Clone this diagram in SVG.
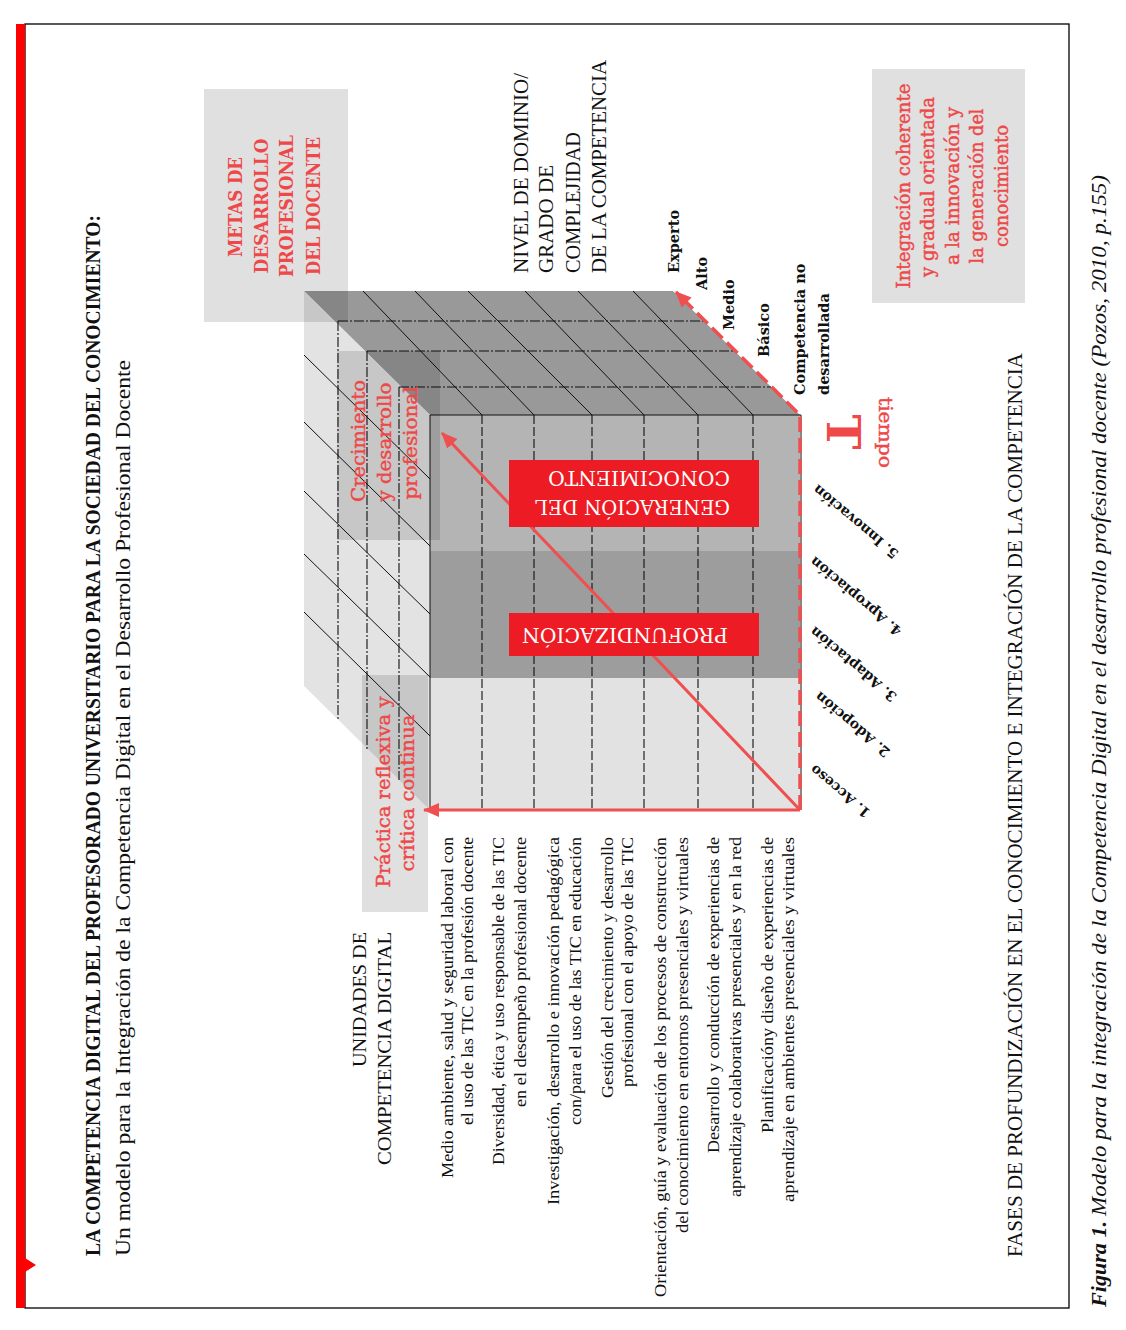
<svg xmlns="http://www.w3.org/2000/svg" width="1126" height="1330" viewBox="0 0 1126 1330">
<defs>
<style>
.slab{font-family:"DejaVu Serif",serif}
.ser{font-family:"Liberation Serif",serif}
.rt{fill:#ef4848}
.th{stroke:#ef4848;stroke-width:0.45}
.bk{fill:#111}
.wt{fill:#fff}
.ov{fill:#000;fill-opacity:0.12}
.ln{stroke:#111;stroke-width:1;fill:none}
.dd{stroke:#111;stroke-width:1.1;fill:none;stroke-dasharray:10 2 2 2}
.dv{stroke:#111;stroke-width:1.1;fill:none;stroke-dasharray:9 3}
.ra{stroke:#ef4f4f;stroke-width:3;fill:none}
.rd{stroke:#ef4f4f;stroke-width:3.5;fill:none;stroke-dasharray:15 6}
.rbox{fill:#ed1c24}
</style>
<marker id="ah" markerUnits="userSpaceOnUse" markerWidth="18" markerHeight="16" refX="15" refY="7" orient="auto"><path d="M0,0 L16,7 L0,14 z" fill="#ef4f4f"/></marker>
</defs>
<rect width="1126" height="1330" fill="#fff"/>

<g id="frame">
<rect x="25" y="24" width="1044" height="1284" fill="none" stroke="#000" stroke-width="1.3"/>
<rect x="16" y="24" width="9" height="1284" fill="#ff0000"/>
<polygon points="25,1258 36,1265 25,1272" fill="#ff0000"/>
</g>

<g id="title">
<text class="ser bk" font-weight="bold" font-size="20" transform="translate(100,1256) rotate(-90)" textLength="1041" lengthAdjust="spacingAndGlyphs">LA COMPETENCIA DIGITAL DEL PROFESORADO UNIVERSITARIO PARA LA SOCIEDAD DEL CONOCIMIENTO:</text>
<text class="ser bk" font-size="20" transform="translate(130,1256) rotate(-90)" textLength="896" lengthAdjust="spacingAndGlyphs">Un modelo para la Integración de la Competencia Digital en el Desarrollo Profesional Docente</text>
</g>

<g id="cube">
<polygon points="304,291 673,291 800,415 430,415" fill="#999"/>
<polygon points="304,291 430,415 430,810 304,686" fill="#e3e3e3"/>
<rect x="430" y="415" width="370" height="136" fill="#b4b4b4"/>
<rect x="430" y="551" width="370" height="127" fill="#9d9d9d"/>
<rect x="430" y="678" width="370" height="132" fill="#e2e2e2"/>
<g id="cube-lines">
<path class="ln" d="M363,291 L482,415 M415,291 L534,415 M468,291 L592,415 M525,291 L644,415 M578,291 L698,415 M633,291 L753,415"/>
<path class="ln" d="M304,355 L430,479 M304,422 L430,546 M304,491 L430,614 M304,554 L430,677 M304,612 L430,736"/>
<path class="dd" d="M338,321 L704,321 M367,351 L735,351 M399,387 L771,387"/>
<path class="dd" d="M338,321 L338,720 M367,351 L367,749 M399,387 L399,780"/>
<path class="dv" d="M482,415 L482,810 M534,415 L534,810 M592,415 L592,810 M644,415 L644,810 M698,415 L698,810 M753,415 L753,810"/>
<path class="ln" stroke-width="1.4" d="M430,810 L430,415 L801,415 L801,810"/>
</g>
</g>

<g id="overlays">
<rect class="ov" x="204" y="89" width="144" height="233"/>
<rect class="ov" x="337" y="351" width="103" height="189"/>
<rect class="ov" x="362" y="675" width="66" height="237"/>
<rect class="ov" x="872" y="69" width="153" height="234"/>
</g>

<g id="connectors">
<path class="ra" d="M800,810 L424,810" marker-end="url(#ah)"/>
<path class="ra" d="M800,810 L442,433" marker-end="url(#ah)"/>
<path class="rd" d="M800,810 L800,415 L676,292" marker-end="url(#ah)"/>
</g>

<g id="node-generacion">
<rect class="rbox" x="509" y="460" width="250" height="67"/>
<text class="slab wt" font-size="20" transform="translate(730,500) rotate(180)" textLength="195" lengthAdjust="spacingAndGlyphs">GENERACIÓN DEL</text>
<text class="slab wt" font-size="20" transform="translate(730,471) rotate(180)" textLength="182" lengthAdjust="spacingAndGlyphs">CONOCIMIENTO</text>
</g>
<g id="node-profundizacion">
<rect class="rbox" x="509" y="613" width="250" height="43"/>
<text class="slab wt" font-size="20" transform="translate(728,628) rotate(180)" textLength="206" lengthAdjust="spacingAndGlyphs">PROFUNDIZACIÓN</text>
</g>

<g id="node-metas">
<g class="slab rt" font-weight="bold" font-size="19" text-anchor="middle">
<text transform="translate(242,207) rotate(-90)" textLength="100" lengthAdjust="spacingAndGlyphs">METAS DE</text>
<text transform="translate(268,206) rotate(-90)" textLength="135" lengthAdjust="spacingAndGlyphs">DESARROLLO</text>
<text transform="translate(293,206) rotate(-90)" textLength="142" lengthAdjust="spacingAndGlyphs">PROFESIONAL</text>
<text transform="translate(320,206) rotate(-90)" textLength="138" lengthAdjust="spacingAndGlyphs">DEL DOCENTE</text>
</g>
</g>

<g id="node-crecimiento">
<g class="slab rt th" font-size="19" text-anchor="middle">
<text transform="translate(365,441) rotate(-90)" textLength="122" lengthAdjust="spacingAndGlyphs">Crecimiento</text>
<text transform="translate(391,442) rotate(-90)" textLength="119" lengthAdjust="spacingAndGlyphs">y desarrollo</text>
<text transform="translate(417,443) rotate(-90)" textLength="113" lengthAdjust="spacingAndGlyphs">profesional</text>
</g>
</g>

<g id="node-practica">
<g class="slab rt th" font-size="19" text-anchor="middle">
<text transform="translate(390,792) rotate(-90)" textLength="191" lengthAdjust="spacingAndGlyphs">Práctica reflexiva y</text>
<text transform="translate(414,793) rotate(-90)" textLength="157" lengthAdjust="spacingAndGlyphs">crítica continua</text>
</g>
</g>

<g id="node-integracion">
<g class="slab rt th" font-size="18" text-anchor="middle">
<text transform="translate(910,186) rotate(-90)" textLength="205" lengthAdjust="spacingAndGlyphs">Integración coherente</text>
<text transform="translate(934,187) rotate(-90)" textLength="180" lengthAdjust="spacingAndGlyphs">y gradual orientada</text>
<text transform="translate(959,186) rotate(-90)" textLength="158" lengthAdjust="spacingAndGlyphs">a la innovación y</text>
<text transform="translate(983,186) rotate(-90)" textLength="155" lengthAdjust="spacingAndGlyphs">la generación del</text>
<text transform="translate(1008,186) rotate(-90)" textLength="122" lengthAdjust="spacingAndGlyphs">conocimiento</text>
</g>
</g>

<g id="node-nivel">
<g class="ser bk" font-size="20">
<text transform="translate(528,273) rotate(-90)" textLength="200" lengthAdjust="spacingAndGlyphs">NIVEL DE DOMINIO/</text>
<text transform="translate(553,273) rotate(-90)" textLength="108" lengthAdjust="spacingAndGlyphs">GRADO DE</text>
<text transform="translate(580,273) rotate(-90)" textLength="141" lengthAdjust="spacingAndGlyphs">COMPLEJIDAD</text>
<text transform="translate(606,273) rotate(-90)" textLength="213" lengthAdjust="spacingAndGlyphs">DE LA COMPETENCIA</text>
</g>
</g>

<g id="node-niveles">
<g class="slab bk" font-weight="bold" font-size="14.5">
<text transform="translate(679,273) rotate(-90)">Experto</text>
<text transform="translate(707,290) rotate(-90)">Alto</text>
<text transform="translate(734,330) rotate(-90)">Medio</text>
<text transform="translate(769,357) rotate(-90)">Básico</text>
<text transform="translate(805,395) rotate(-90)">Competencia no</text>
<text transform="translate(829,395) rotate(-90)">desarrollada</text>
</g>
</g>

<g id="node-tiempo">
<text class="slab rt" font-weight="bold" font-size="47" text-anchor="middle" transform="translate(827,432) rotate(90)">T</text>
<text class="slab rt th" font-size="19" transform="translate(879,397) rotate(90)" textLength="71" lengthAdjust="spacingAndGlyphs">tiempo</text>
</g>

<g id="node-fases">
<g class="slab bk" font-weight="bold" font-size="14" text-anchor="end">
<text transform="translate(815,764) rotate(220)">1. Acceso</text>
<text transform="translate(820,691) rotate(220)">2. Adopción</text>
<text transform="translate(815,626) rotate(220)">3. Adaptación</text>
<text transform="translate(815,556) rotate(220)">4. Apropiación</text>
<text transform="translate(818,484) rotate(220)">5. Innovación</text>
</g>
</g>

<g id="node-unidades">
<g class="ser bk" font-size="19" text-anchor="end">
<text transform="translate(366,932) rotate(-90)" textLength="135" lengthAdjust="spacingAndGlyphs">UNIDADES DE</text>
<text transform="translate(391,932) rotate(-90)" textLength="233" lengthAdjust="spacingAndGlyphs">COMPETENCIA DIGITAL</text>
</g>
</g>

<g id="node-descripciones">
<g class="ser bk" font-size="16" text-anchor="end">
<text transform="translate(453,837) rotate(-90)" textLength="341" lengthAdjust="spacingAndGlyphs">Medio ambiente, salud y seguridad laboral con</text>
<text transform="translate(473,837) rotate(-90)" textLength="288" lengthAdjust="spacingAndGlyphs">el uso de las TIC en la profesión docente</text>
<text transform="translate(504,837) rotate(-90)" textLength="328" lengthAdjust="spacingAndGlyphs">Diversidad, ética y uso responsable de las TIC</text>
<text transform="translate(526,837) rotate(-90)" textLength="270" lengthAdjust="spacingAndGlyphs">en el desempeño profesional docente</text>
<text transform="translate(559,837) rotate(-90)" textLength="368" lengthAdjust="spacingAndGlyphs">Investigación, desarrollo e innovación pedagógica</text>
<text transform="translate(581,837) rotate(-90)" textLength="288" lengthAdjust="spacingAndGlyphs">con/para el uso de las TIC en educación</text>
<text transform="translate(613,837) rotate(-90)" textLength="261" lengthAdjust="spacingAndGlyphs">Gestión del crecimiento y desarrollo</text>
<text transform="translate(633,837) rotate(-90)" textLength="250" lengthAdjust="spacingAndGlyphs">profesional con el apoyo de las TIC</text>
<text transform="translate(666,837) rotate(-90)" textLength="460" lengthAdjust="spacingAndGlyphs">Orientación, guía y evaluación de los procesos de construcción</text>
<text transform="translate(688,837) rotate(-90)" textLength="396" lengthAdjust="spacingAndGlyphs">del conocimiento en entornos presenciales y virtuales</text>
<text transform="translate(719,837) rotate(-90)" textLength="316" lengthAdjust="spacingAndGlyphs">Desarrollo y conducción de experiencias de</text>
<text transform="translate(741,837) rotate(-90)" textLength="360" lengthAdjust="spacingAndGlyphs">aprendizaje colaborativas presenciales y en la red</text>
<text transform="translate(773,837) rotate(-90)" textLength="296" lengthAdjust="spacingAndGlyphs">Planificacióny diseño de experiencias de</text>
<text transform="translate(794,837) rotate(-90)" textLength="365" lengthAdjust="spacingAndGlyphs">aprendizaje en ambientes presenciales y virtuales</text>
</g>
</g>

<g id="node-fases-titulo">
<text class="ser bk" font-size="20" transform="translate(1022,1257) rotate(-90)" textLength="904" lengthAdjust="spacingAndGlyphs">FASES DE PROFUNDIZACIÓN EN EL CONOCIMIENTO E INTEGRACIÓN DE LA COMPETENCIA</text>
</g>

<g id="caption">
<text class="ser bk" font-size="21" font-weight="bold" font-style="italic" transform="translate(1106,1307) rotate(-90)" textLength="86" lengthAdjust="spacingAndGlyphs">Figura 1.</text>
<text class="ser bk" font-size="21" font-style="italic" transform="translate(1106,1216) rotate(-90)" textLength="1041" lengthAdjust="spacingAndGlyphs">Modelo para la integración de la Competencia Digital en el desarrollo profesional docente (Pozos, 2010, p.155)</text>
</g>
</svg>
